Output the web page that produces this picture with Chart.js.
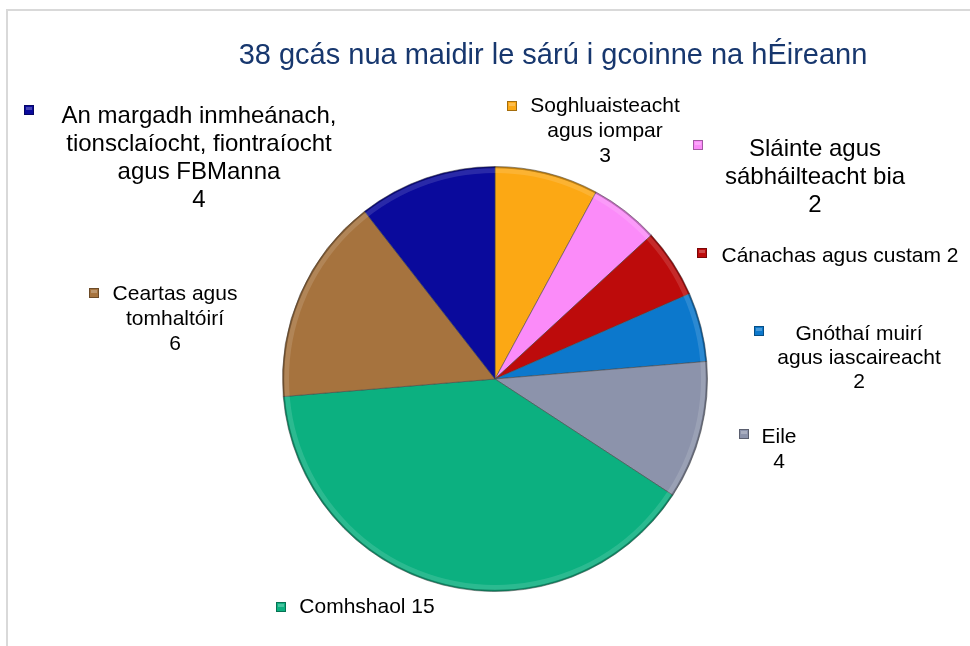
<!DOCTYPE html>
<html>
<head>
<meta charset="utf-8">
<script src="https://cdn.jsdelivr.net/npm/chart.js@4/dist/chart.umd.min.js"></script>
<style>
  html, body { margin: 0; padding: 0; background: #fff; }
  #wrap { width: 970px; height: 646px; position: relative; }
</style>
</head>
<body>
<div id="wrap"><canvas id="pieChart"></canvas></div>
<script>
var chartTitle = '38 gcás nua maidir le sárú i gcoinne na hÉireann';
var categories = [
    'Soghluaisteacht agus iompar',
    'Sláinte agus sábháilteacht bia',
    'Cánachas agus custam',
    'Gnóthaí muirí agus iascaireacht',
    'Eile',
    'Comhshaol',
    'Ceartas agus tomhaltóirí',
    'An margadh inmheánach, tionsclaíocht, fiontraíocht agus FBManna'
];
var cases = [3, 2, 2, 2, 4, 15, 6, 4];
// how each label is broken into lines (value goes in as {v})
var labelLines = [
    ['Soghluaisteacht', 'agus iompar', '{v}'],
    ['Sláinte agus', 'sábháilteacht bia', '{v}'],
    ['Cánachas agus custam {v}'],
    ['Gnóthaí muirí', 'agus iascaireacht', '{v}'],
    ['Eile', '{v}'],
    ['Comhshaol {v}'],
    ['Ceartas agus', 'tomhaltóirí', '{v}'],
    ['An margadh inmheánach,', 'tionsclaíocht, fiontraíocht', 'agus FBManna', '{v}']
];
var sliceColors = ['#fca814', '#fb8bf9', '#bd0b0b', '#0c78cc', '#8c93ab', '#0cb080', '#a6733e', '#0a0a9c'];

// label placement: text centre x, first line y, line step, font size, key square x/y
var labelLayout = [
    { x: 605, y: 106, step: 25, size: 21, kx: 507, ky: 101 },
    { x: 815, y: 149, step: 28, size: 24, kx: 693, ky: 140 },
    { x: 840, y: 256, step: 26, size: 21, kx: 697, ky: 248 },
    { x: 859, y: 334, step: 24, size: 21, kx: 754, ky: 326 },
    { x: 779, y: 437, step: 25, size: 21, kx: 739, ky: 429 },
    { x: 367, y: 607, step: 26, size: 21, kx: 276, ky: 602 },
    { x: 175, y: 294, step: 25, size: 21, kx: 89, ky: 288 },
    { x: 199, y: 116, step: 28, size: 24, kx: 24, ky: 105 }
];

var labelPlugin = {
    id: 'pieLabels',
    beforeDraw: function (chart) {
        var ctx = chart.ctx;
        ctx.save();
        ctx.fillStyle = '#d9d9d9';
        ctx.fillRect(6, 9, 964, 2);
        ctx.fillRect(6, 9, 2, 637);
        ctx.restore();
    },
    afterDatasetsDraw: function (chart) {
        var ctx = chart.ctx;
        var arc = chart.getDatasetMeta(0).data[0];
        ctx.save();
        // soft rim highlight for the bevel look
        ctx.beginPath();
        ctx.arc(arc.x, arc.y, arc.outerRadius - 4, 0, Math.PI * 2);
        ctx.lineWidth = 5;
        ctx.strokeStyle = 'rgba(255,255,255,0.13)';
        ctx.stroke();
        ctx.beginPath();
        ctx.arc(arc.x, arc.y, arc.outerRadius - 1, 0, Math.PI * 2);
        ctx.lineWidth = 1.5;
        ctx.strokeStyle = 'rgba(0,0,0,0.25)';
        ctx.stroke();
        ctx.restore();
    },
    afterDraw: function (chart) {
        var ctx = chart.ctx;
        ctx.save();
        ctx.textAlign = 'center';
        ctx.textBaseline = 'middle';
        ctx.fillStyle = '#17376e';
        ctx.font = '29px "Liberation Sans", Arial, sans-serif';
        ctx.fillText(chartTitle, 553, 56);

        for (var i = 0; i < cases.length; i++) {
            var l = labelLayout[i];
            ctx.fillStyle = sliceColors[i];
            ctx.fillRect(l.kx, l.ky, 10, 10);
            ctx.strokeStyle = 'rgba(0,0,0,0.35)';
            ctx.lineWidth = 1;
            ctx.strokeRect(l.kx + 0.5, l.ky + 0.5, 9, 9);
            ctx.fillStyle = 'rgba(255,255,255,0.25)';
            ctx.fillRect(l.kx + 2, l.ky + 2, 6, 3);

            ctx.fillStyle = '#000';
            ctx.font = l.size + 'px "Liberation Sans", Arial, sans-serif';
            for (var j = 0; j < labelLines[i].length; j++) {
                var txt = labelLines[i][j].replace('{v}', cases[i]);
                ctx.fillText(txt, l.x, l.y + j * l.step);
            }
        }
        ctx.restore();
    }
};

new Chart(document.querySelector('#pieChart').getContext('2d'), {
    type: 'pie',
    data: {
        labels: categories,
        datasets: [{
            data: cases,
            backgroundColor: sliceColors,
            borderColor: 'rgba(70,70,70,0.55)',
            borderWidth: 1,
            hoverOffset: 0,
            offset: 0
        }]
    },
    options: {
        responsive: true,
        maintainAspectRatio: false,
        animation: false,
        layout: { padding: { left: 282, right: 262, top: 166, bottom: 54 } },
        plugins: {
            legend: { display: false },
            tooltip: { enabled: false }
        }
    },
    plugins: [labelPlugin]
});
</script>
</body>
</html>
